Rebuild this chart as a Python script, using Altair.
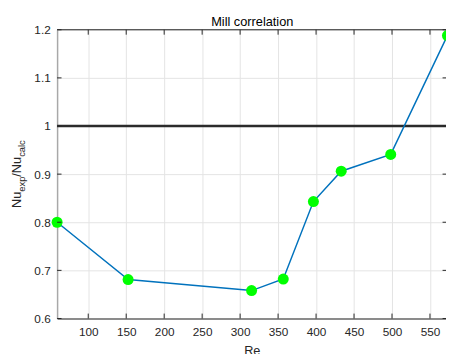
import altair as alt
import pandas as pd

# ---- data ----
re_vals = [59.0, 152.5, 315.1, 356.8, 396.5, 433.1, 498.3, 573.0]
ratio_vals = [0.800, 0.681, 0.658, 0.682, 0.843, 0.906, 0.941, 1.188]
x_ticks = [100, 150, 200, 250, 300, 350, 400, 450, 500, 550]
y_ticks = [0.6, 0.7, 0.8, 0.9, 1.0, 1.1, 1.2]
ref_level = [1.0]
x_domain = [59.0, 571.1]
y_domain = [0.6, 1.2]
title_text = "Mill correlation"
x_title = "Re"

W, H = 396, 294
FONT = "Liberation Sans"
AX = "#262626"

df = pd.DataFrame({"Re": re_vals, "ratio": ratio_vals})
xt = pd.DataFrame({"Re": x_ticks})
yt = pd.DataFrame({"ratio": y_ticks})
ref = pd.DataFrame({"ratio": ref_level})
one = pd.DataFrame({"k": [0]})

xscale = alt.Scale(domain=x_domain, nice=False, zero=False)
yscale = alt.Scale(domain=y_domain, nice=False, zero=False)

xaxis = alt.Axis(values=x_ticks, format="d", title=None, grid=True,
                 gridColor="#e3e3e3", gridWidth=1, ticks=False,
                 domainColor=AX, domainWidth=1.2, labelFont=FONT,
                 labelFontSize=12, labelColor=AX, labelPadding=8,
                 labelFlush=False, labelOverlap=False)
yaxis = alt.Axis(values=y_ticks, format="~g", title=None, grid=True,
                 gridColor="#e3e3e3", gridWidth=1, ticks=False,
                 domainColor="#a8a8a8", domainWidth=1.5, labelFont=FONT,
                 labelFontSize=12, labelColor=AX, labelPadding=7,
                 labelFlush=False, labelOverlap=False)

x_enc = alt.X("Re:Q", scale=xscale, axis=xaxis)
y_enc = alt.Y("ratio:Q", scale=yscale, axis=yaxis)

refline = alt.Chart(ref).mark_rule(color="#2b2b2b", strokeWidth=2.5).encode(y=y_enc)

line = alt.Chart(df).mark_line(color="#0072BD", strokeWidth=1.5).encode(x=x_enc, y=y_enc)
pts = alt.Chart(df).mark_circle(color="#00FF00", size=125, opacity=1).encode(x=x_enc, y=y_enc)

top_border = alt.Chart(one).mark_rule(color=AX, strokeWidth=1.2).encode(
    x=alt.value(0), x2=alt.value(W), y=alt.value(0))

bt = alt.Chart(xt).mark_rule(color=AX, strokeWidth=1).encode(
    x=x_enc, y=alt.value(H - 5), y2=alt.value(H))
tt = alt.Chart(xt).mark_rule(color=AX, strokeWidth=1).encode(
    x=x_enc, y=alt.value(0), y2=alt.value(5))
lt = alt.Chart(yt).mark_rule(color=AX, strokeWidth=1).encode(
    y=y_enc, x=alt.value(0), x2=alt.value(4.5))
rt = alt.Chart(yt).mark_rule(color=AX, strokeWidth=1).encode(
    y=y_enc, x=alt.value(W - 3.5), x2=alt.value(W))

title = alt.Chart(one).mark_text(text=title_text, font=FONT, fontSize=13,
                                 color="#000000", align="center",
                                 baseline="alphabetic").encode(
    x=alt.value(198.75), y=alt.value(-3.5))

xlab = alt.Chart(one).mark_text(text=x_title, font=FONT, fontSize=13,
                                color=AX, align="center",
                                baseline="alphabetic").encode(
    x=alt.value(198.75), y=alt.value(331.6))

# y-axis title with subscripts: Nu_exp / Nu_calc
parts = [("Nu", 13, 181.5, -37), ("exp", 9.5, 164.9, -33),
         ("/Nu", 13, 149.6, -37), ("calc", 9.5, 129.4, -33)]
ylab_layers = []
for txt, fs, yy, xx in parts:
    ylab_layers.append(
        alt.Chart(one).mark_text(text=txt, font=FONT, fontSize=fs, color=AX,
                                 angle=270, align="left",
                                 baseline="alphabetic").encode(
            x=alt.value(xx), y=alt.value(yy)))

chart = alt.layer(
    refline, line, pts, top_border, bt, tt, lt, rt, title, xlab, *ylab_layers
).properties(
    width=W, height=H,
    autosize=alt.AutoSizeParams(type="none"),
    padding={"left": 50, "top": 19, "right": 0, "bottom": 33},
    background="white",
).configure_view(stroke=None)

chart.save("out.html", embed_options={"renderer": "svg", "actions": False})
